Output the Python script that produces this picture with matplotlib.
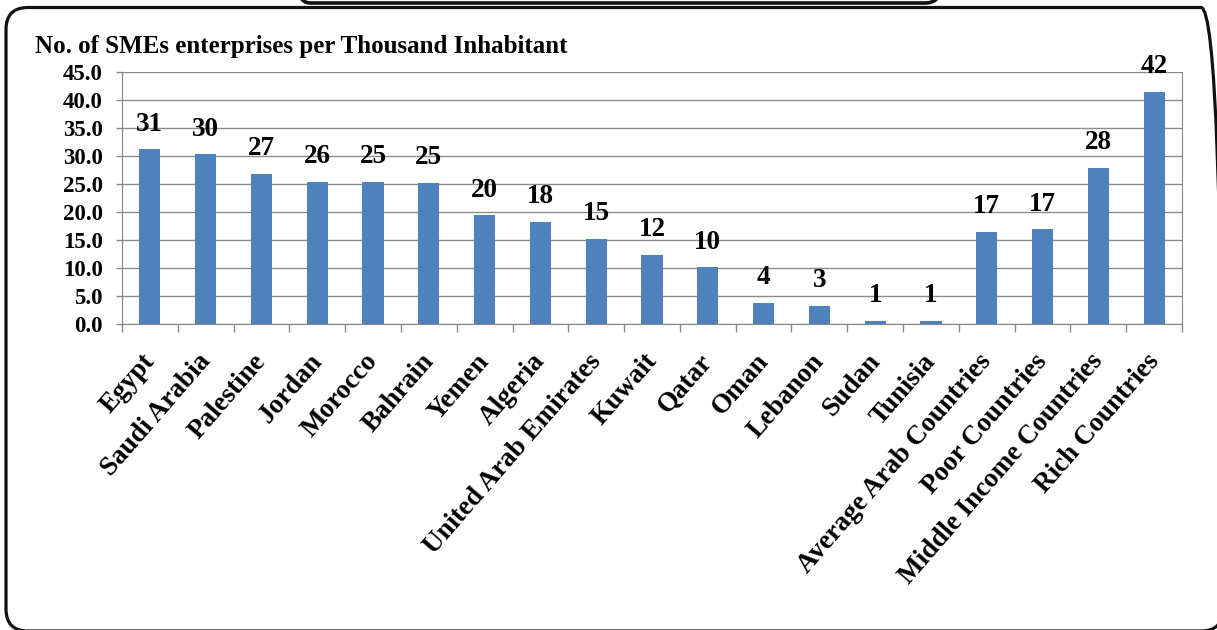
import numpy as np
import matplotlib
matplotlib.use("Agg")
import matplotlib.pyplot as plt
from matplotlib.patches import FancyBboxPatch
from matplotlib.ticker import FormatStrFormatter
from matplotlib.transforms import ScaledTranslation

plt.rcParams['font.family'] = ['Liberation Serif', 'DejaVu Serif']
plt.rcParams['font.weight'] = 'bold'

countries = ["Egypt", "Saudi Arabia", "Palestine", "Jordan", "Morocco", "Bahrain",
             "Yemen", "Algeria", "United Arab Emirates", "Kuwait", "Qatar", "Oman",
             "Lebanon", "Sudan", "Tunisia", "Average Arab Countries", "Poor Countries",
             "Middle Income Countries", "Rich Countries"]
smes = [31.2, 30.3, 26.8, 25.4, 25.4, 25.2, 19.4, 18.2, 15.2, 12.4, 10.1, 3.8,
        3.3, 0.5, 0.5, 16.4, 16.9, 27.9, 41.5]
value_labels = ["31", "30", "27", "26", "25", "25", "20", "18", "15", "12", "10", "4",
                "3", "1", "1", "17", "17", "28", "42"]
title = "No. of SMEs enterprises per Thousand Inhabitant"

fig = plt.figure(figsize=(12.17, 6.3), dpi=100)

# outer rounded frame and the cut-off box at the top
frame = FancyBboxPatch((0.06, -0.01), 12.17, 6.235, boxstyle="round,pad=0,rounding_size=0.22",
                       transform=fig.dpi_scale_trans, fill=False, lw=2.3, ec="#111111")
fig.add_artist(frame)
topbox = FancyBboxPatch((2.95, 6.27), 6.45, 0.5, boxstyle="round,pad=0,rounding_size=0.15",
                        transform=fig.dpi_scale_trans, fill=False, lw=2.6, ec="#111111")
fig.add_artist(topbox)

ax = fig.add_axes([122 / 1217, 1 - 324 / 630, (1182 - 122) / 1217, (324 - 72) / 630])
x = np.arange(len(countries))
ax.bar(x, smes, width=0.38, color="#4F81BD", zorder=3)

for xi, v, lab in zip(x, smes, value_labels):
    ax.annotate(lab, (xi, v), xytext=(0, 13.5), textcoords="offset points",
                ha="center", va="baseline", fontsize=19.5, fontweight="bold")

ax.set_xlim(-0.5, len(countries) - 0.5)
ax.set_ylim(0, 45)
ax.set_yticks(np.arange(0, 46, 5))
ax.yaxis.set_major_formatter(FormatStrFormatter("%.1f"))
ax.tick_params(axis="y", length=4, width=1, color="#868686", pad=10, labelsize=16.5)
ax.grid(axis="y", color="#8c8c8c", lw=1, zorder=0)

ax.set_xticks(x)
ax.set_xticklabels(countries, rotation=49, ha="right", fontsize=19.5)
ax.tick_params(axis="x", which="major", length=0, pad=18)
shift = ScaledTranslation(10 / 100, 0, fig.dpi_scale_trans)
for lbl in ax.get_xticklabels():
    lbl.set_transform(lbl.get_transform() + shift)
ax.set_xticks(np.arange(-0.5, len(countries), 1), minor=True)
ax.tick_params(axis="x", which="minor", length=6, width=1, color="#868686")

for s in ["left", "bottom", "right"]:
    ax.spines[s].set_color("#868686")
ax.spines["top"].set_visible(False)

fig.text(35 / 1217, 1 - 53 / 630, title, fontsize=18, fontweight="bold", va="baseline")

fig.savefig("out.png", dpi=100)
